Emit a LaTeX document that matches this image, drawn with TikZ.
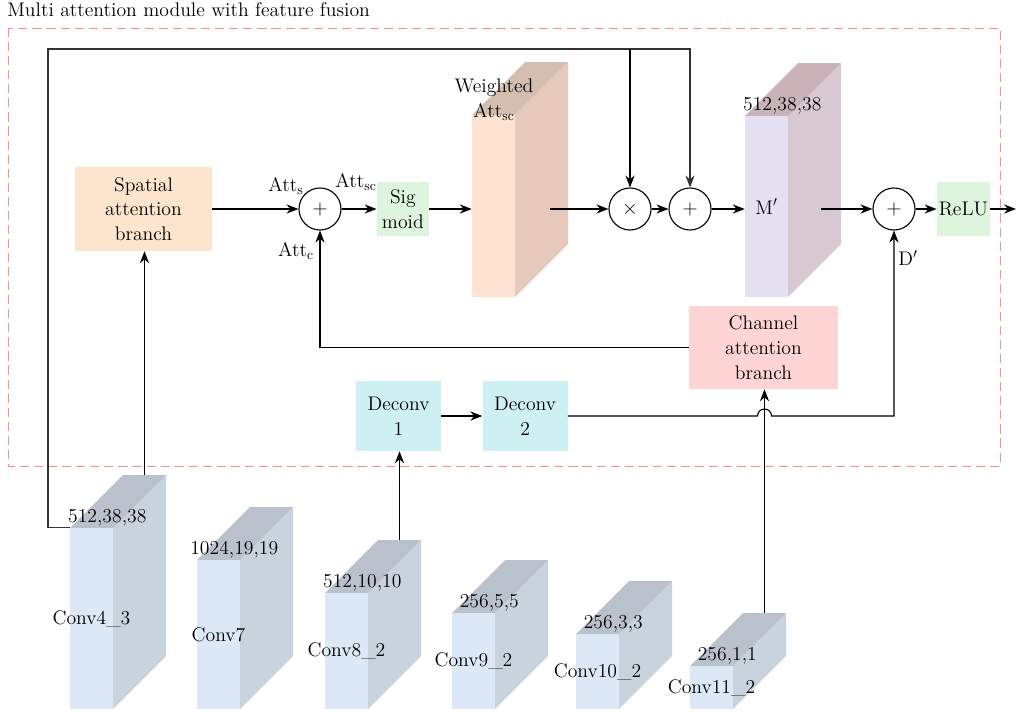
\documentclass[tikz,border=0pt]{standalone}
\usepackage{xcolor}
\usepackage{tikz}
\usetikzlibrary{arrows.meta, positioning, calc}

\definecolor{convfront}{HTML}{DDE8F6}
\definecolor{convside}{HTML}{C8D3DE}
\definecolor{convtop}{HTML}{B9C1CC}
\definecolor{wattfront}{HTML}{FDE2D2}
\definecolor{wattside}{HTML}{E6C9BA}
\definecolor{watttop}{HTML}{D4BEAF}
\definecolor{mpfront}{HTML}{E5E1F3}
\definecolor{mpside}{HTML}{D8C8D2}
\definecolor{mptop}{HTML}{C9B2B8}
\definecolor{spatialfill}{HTML}{FDE4CC}
\definecolor{channelfill}{HTML}{FFD4D4}
\definecolor{sigfill}{HTML}{DCF5DC}
\definecolor{deconvfill}{HTML}{CEF0F2}
\definecolor{moduleline}{HTML}{FF8A8A}

% feature map block: name, x, y (top left of front face), height, colours, text, size
\newcommand{\fmap}[7]{%
  \fill[#5side] (#2+43,#3) -- ++(53,-53) -- ++(0,#4) -- (#2+43,#3+#4) -- cycle;
  \fill[#5top] (#2,#3) -- ++(53,-53) -- ++(43,0) -- (#2+43,#3) -- cycle;
  \node[fmapface, fill=#5front, minimum height=#4*0.025cm,
    label=center:{#6}, label={[dimlabel]north east:{#7}}] (#1) at (#2+21.5,#3+#4/2) {};
  \coordinate (#1-top) at (#2+21.5+53,#3-53);
}

\begin{document}
\begin{tikzpicture}[
  x=0.025cm, y=-0.025cm,
  every node/.style={font=\fontsize{14}{17.6}\selectfont},
  box/.style={align=center, inner sep=0pt},
  sumnode/.style={draw, circle, minimum size=1.05cm, inner sep=0pt, line width=0.8pt},
  fmapface/.style={rectangle, minimum width=1.075cm, inner sep=0pt},
  dimlabel/.style={anchor=south, inner sep=1pt, xshift=-0.15cm},
  arrow/.style={-{Stealth[length=8.5pt, width=6.5pt]}, line width=0.8pt}
]
\useasboundingbox (0,0) rectangle (1016,711);

% Module frame
\node[anchor=base west, inner sep=0pt] (title) at (7,16) {Multi attention module with feature fusion};
\draw[moduleline, line width=0.7pt, dash pattern=on 6.5pt off 3.5pt] (8,28) rectangle (1000,466);

% Feature maps
\fmap{c43}{70}{528}{181}{conv}{Conv4\_3}{512,38,38}
\fmap{c7}{197}{560}{149}{conv}{Conv7}{1024,19,19}
\fmap{c82}{325}{593}{116}{conv}{Conv8\_2}{512,10,10}
\fmap{c92}{452}{613}{96}{conv}{Conv9\_2}{256,5,5}
\fmap{c102}{576}{634}{75}{conv}{Conv10\_2}{256,3,3}
\fmap{c112}{690}{666}{43}{conv}{Conv11\_2}{256,1,1}
\fmap{watt}{472}{115}{182}{watt}{}{}
\fmap{mp}{745}{116}{181}{mp}{M$'$}{512,38,38}

% Nodes
\node[box, fill=spatialfill, minimum width=3.425cm, minimum height=2.1cm] (sab) at (143.5,209) {Spatial\\attention\\branch};
\node[sumnode] (plus1) at (320,209) {$+$};
\node[box, fill=sigfill, minimum width=1.3cm, minimum height=1.325cm, right=0.875cm of plus1] (sig) {Sig\\moid};
\node[sumnode] (times) at (630,209) {$\times$};
\node[sumnode] (plus2) at (690,209) {$+$};
\node[sumnode] (plus3) at (894,209) {$+$};
\node[box, fill=sigfill, minimum width=1.325cm, minimum height=1.325cm, right=0.525cm of plus3] (relu) {ReLU};
\node[box, fill=channelfill, minimum width=3.725cm, minimum height=2.075cm] (cab) at (763.5,347.5) {Channel\\attention\\branch};
\node[box, fill=deconvfill, minimum width=2.125cm, minimum height=1.75cm] (dc1) at (398.5,416) {Deconv\\1};
\node[box, fill=deconvfill, minimum width=2.125cm, minimum height=1.75cm, right=1.025cm of dc1] (dc2) {Deconv\\2};

% Labels
\node (atts) at (286,186) {Att\textsubscript{s}};
\node (attsc) at (356,182) {Att\textsubscript{sc}};
\node (attc) at (296,251) {Att\textsubscript{c}};
\node (dprime) at (908,258) {D$'$};
\node[align=center] (wattlabel) at (494,100) {Weighted\\Att\textsubscript{sc}};

\coordinate (looptop) at (48,49);
\coordinate (wattout) at (550,209);
\coordinate (mpout) at (821,209);
\coordinate (out) at (1016,209);

% Pointers
\draw[arrow] (sab.east) -- (plus1.west);
\draw[arrow] (plus1.east) -- (sig.west);
\draw[arrow] (sig.east) -- (sig.east -| watt.west);
\draw[arrow] (wattout) -- (times.west);
\draw[arrow] (times.east) -- (plus2.west);
\draw[arrow] (plus2.east) -- (plus2.east -| mp.west);
\draw[arrow] (mpout) -- (plus3.west);
\draw[arrow] (plus3.east) -- (relu.west);
\draw[arrow] (relu.east) -- (out);
\draw[arrow] (cab.west) -| (plus1.south);
\draw[arrow, draw=black!80] (c43.north west) -| (looptop) -| (plus2.north);
\draw[arrow] (looptop -| times) -- (times.north);
\draw[arrow] (c43-top) -- (c43-top |- sab.south);
\draw[arrow] (c82-top) -- (c82-top |- dc1.south);
\draw[arrow] (dc1.east) -- (dc2.west);
\draw[arrow] (c112-top) -- (c112-top |- cab.south);
\draw[arrow] (dc2.east) -- ($(c112-top |- dc2.east)+(-5pt,0)$) arc[start angle=180, end angle=0, radius=5pt]
  -- (plus3 |- dc2.east) -- (plus3.south);
\end{tikzpicture}
\end{document}
